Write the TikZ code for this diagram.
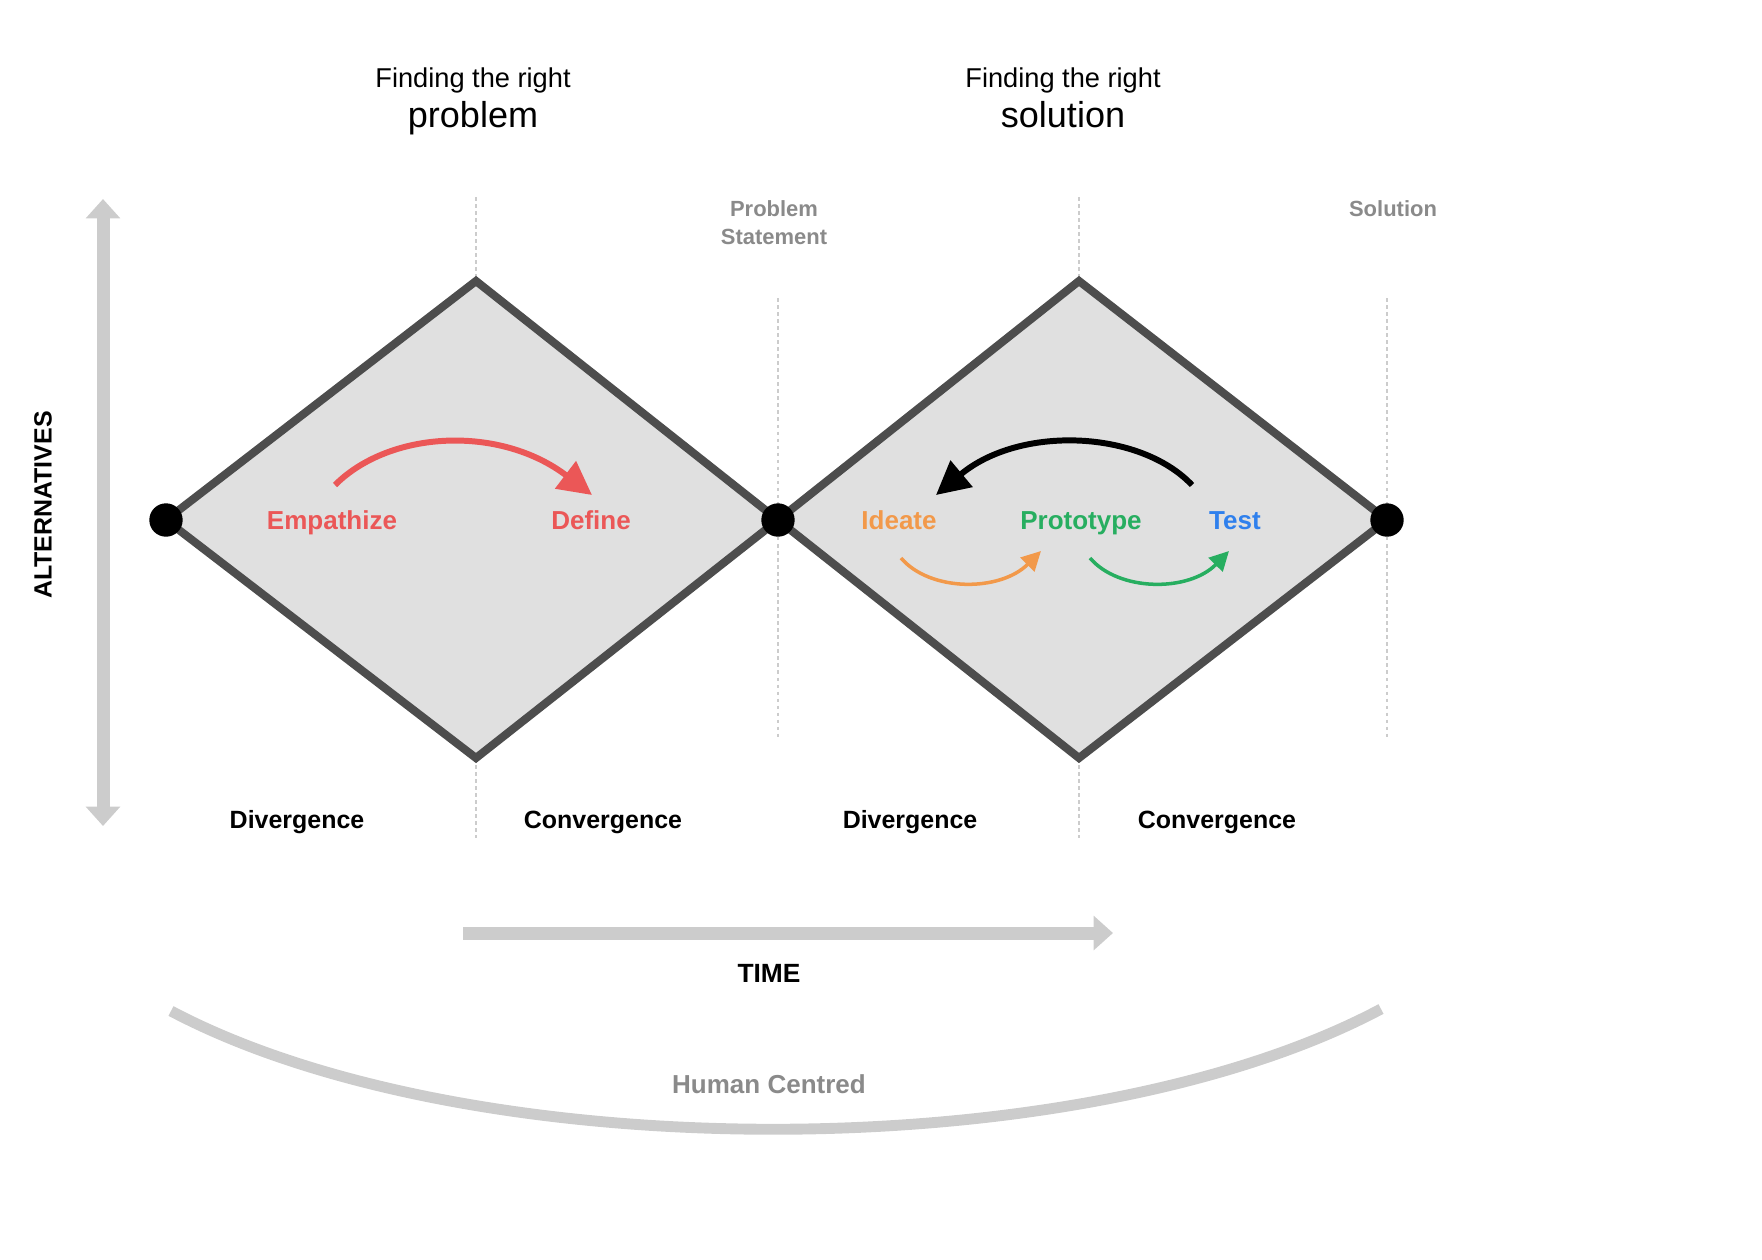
\documentclass[tikz,border=0pt]{standalone}
\usepackage{fontspec}
\setmainfont{Liberation Sans}
\usetikzlibrary{arrows.meta}
\definecolor{outl}{HTML}{4D4D4D}
\definecolor{dfill}{HTML}{E0E0E0}
\definecolor{lgray}{HTML}{CCCCCC}
\definecolor{tgray}{HTML}{8A8A8A}
\definecolor{cred}{HTML}{EB5757}
\definecolor{corange}{HTML}{F2994A}
\definecolor{cgreen}{HTML}{27AE60}
\definecolor{cblue}{HTML}{2F80ED}
\tikzset{
  diam/.style={draw=outl, fill=dfill, line width=4.6pt, line join=miter},
  dotn/.style={circle, fill=black, inner sep=0pt, minimum size=19pt},
  guide/.style={draw=lgray, line width=0.6pt, dash pattern=on 2pt off 2pt},
  lbl/.style={font=\fontsize{14.2pt}{16pt}\selectfont\bfseries, inner sep=0pt, anchor=base},
  glbl/.style={font=\fontsize{12.5pt}{16pt}\selectfont\bfseries, text=tgray, inner sep=0pt, anchor=base},
  head/.style={font=\fontsize{15.5pt}{18pt}\selectfont, inner sep=0pt, anchor=base},
  bighead/.style={font=\fontsize{20.5pt}{24pt}\selectfont, inner sep=0pt, anchor=base},
  stage/.style={font=\fontsize{14.8pt}{16pt}\selectfont\bfseries, inner sep=0pt, anchor=base},
  bigarrow/.style={draw=lgray, line width=7.4pt, -{Triangle[length=11pt,width=19pt]}},
  bigarrowboth/.style={draw=lgray, line width=7.4pt, {Triangle[length=11pt,width=19pt]}-{Triangle[length=11pt,width=19pt]}},
  thickarr/.style={line width=3.4pt, -{Triangle[length=19pt,width=19pt]}},
  thinarr/.style={line width=2pt, -{Triangle[length=11pt,width=11pt]}},
}
\begin{document}
\begin{tikzpicture}[x=0.02cm, y=-0.02cm]
\useasboundingbox (0,0) rectangle (1762,1259);

% guide dashed lines
\coordinate (g1a) at (476,197); \coordinate (g1b) at (476,281);
\coordinate (g1c) at (476,758); \coordinate (g1d) at (476,838);
\coordinate (g2a) at (778,298); \coordinate (g2b) at (778,740);
\coordinate (g3a) at (1079,197); \coordinate (g3b) at (1079,281);
\coordinate (g3c) at (1079,758); \coordinate (g3d) at (1079,838);
\coordinate (g4a) at (1387,298); \coordinate (g4b) at (1387,740);
\draw[guide] (g1a) -- (g1b);
\draw[guide] (g1c) -- (g1d);
\draw[guide] (g2a) -- (g2b);
\draw[guide] (g3a) -- (g3b);
\draw[guide] (g3c) -- (g3d);
\draw[guide] (g4a) -- (g4b);

% diamonds
\coordinate (p0) at (166,520);
\coordinate (t1) at (476,281);
\coordinate (p1) at (778,520);
\coordinate (b1) at (476,758);
\coordinate (t2) at (1079,281);
\coordinate (p2) at (1387,520);
\coordinate (b2) at (1079,758);
\draw[diam] (p0) -- (t1) -- (p1) -- (b1) -- cycle;
\draw[diam] (p1) -- (t2) -- (p2) -- (b2) -- cycle;

\node[dotn] (d0) at (p0) {};
\node[dotn] (d1) at (p1) {};
\node[dotn] (d2) at (p2) {};

% headings
\node[head] (h1) at (473,87) {Finding the right};
\node[bighead] (h1b) at (473,127) {problem};
\node[head] (h2) at (1063,87) {Finding the right};
\node[bighead] (h2b) at (1063,127) {solution};

\node[glbl] (ps) at (774,216) {Problem};
\node[glbl] (ps2) at (774,244) {Statement};
\node[glbl] (sol) at (1393,216) {Solution};

% stage labels
\node[stage, text=cred] (emp) at (332,529) {Empathize};
\node[stage, text=cred] (def) at (591,529) {Define};
\node[stage, text=corange] (ide) at (899,529) {Ideate};
\node[stage, text=cgreen] (pro) at (1081,529) {Prototype};
\node[stage, text=cblue] (tst) at (1235,529) {Test};

% process arrows
\coordinate (ra) at (335,485); \coordinate (rb) at (592,495);
\draw[thickarr, cred] (ra) .. controls (390,430) and (500,425) .. (rb);
\coordinate (ka) at (1192,485); \coordinate (kb) at (936,495);
\draw[thickarr, black] (ka) .. controls (1140,430) and (1020,425) .. (kb);
\coordinate (oa) at (901,558); \coordinate (ob) at (1041,551);
\draw[thinarr, corange] (oa) .. controls (930,592) and (1000,592) .. (ob);
\coordinate (na) at (1090,558); \coordinate (nb) at (1229,551);
\draw[thinarr, cgreen] (na) .. controls (1119,592) and (1189,592) .. (nb);

% bottom labels
\node[lbl] (dv1) at (297,828) {Divergence};
\node[lbl] (cv1) at (603,828) {Convergence};
\node[lbl] (dv2) at (910,828) {Divergence};
\node[lbl] (cv2) at (1217,828) {Convergence};

% axes
\coordinate (va) at (103,826); \coordinate (vb) at (103,199);
\draw[bigarrowboth] (va) -- (vb);
\node[lbl, rotate=90, anchor=center] (alt) at (43,505) {ALTERNATIVES};

\coordinate (ta) at (463,933); \coordinate (tb) at (1113,933);
\draw[bigarrow] (ta) -- (tb);
\node[lbl, font=\fontsize{15pt}{16pt}\selectfont\bfseries] (time) at (769,982) {TIME};

% human centred arc
\coordinate (ha) at (171,1011); \coordinate (hb) at (1381,1009);
\draw[draw=lgray, line width=6.2pt] (ha) .. controls (470,1169) and (1080,1169) .. (hb);
\node[stage, text=tgray] (hc) at (769,1093) {Human Centred};
\end{tikzpicture}
\end{document}
